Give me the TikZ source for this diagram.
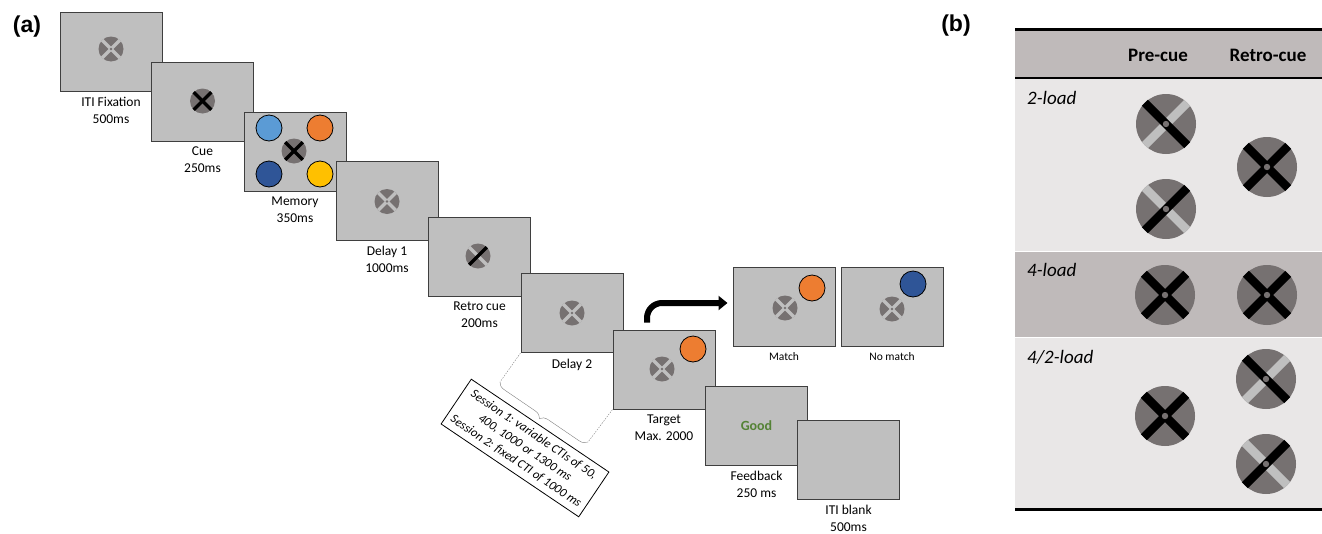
\documentclass[tikz,border=0pt]{standalone}
\usepackage{xcolor}
\usepackage{fontspec}
\setmainfont{Carlito}
\newfontfamily\panelfont{Liberation Sans}
\usepackage{tikz}
\usetikzlibrary{calc,positioning,arrows.meta,decorations.pathreplacing}

\definecolor{scrgray}{HTML}{BFBFBF}
\definecolor{discgray}{HTML}{767171}
\definecolor{edgegray}{HTML}{3F3F3F}
\definecolor{barlight}{HTML}{BFBFBF}
\definecolor{memlblue}{HTML}{5B9BD5}
\definecolor{memorange}{HTML}{ED7D31}
\definecolor{memdblue}{HTML}{2F5597}
\definecolor{memyellow}{HTML}{FFC000}
\definecolor{goodgreen}{HTML}{548235}
\definecolor{tabdark}{HTML}{BFBABA}
\definecolor{tablight}{HTML}{E9E7E7}

% fixation disc: centre, radius, bar width, dot radius, under colour, under angle, over colour
\newcommand{\fixdisc}[7]{%
  \fill[discgray] (#1) circle (#2);
  \draw[line width=#3, #5] ($(#1)+(#6:#2)$) -- ($(#1)+(#6+180:#2)$);
  \draw[line width=#3, #7] ($(#1)+(#6+90:#2)$) -- ($(#1)+(#6+270:#2)$);
  \fill[discgray] (#1) circle (#4);
}

\begin{document}
\begin{tikzpicture}[x=1pt, y=-1pt,
  screen/.style={draw=edgegray, line width=1pt, fill=scrgray, minimum width=102pt, minimum height=79pt, inner sep=0pt},
  lbl/.style={font=\fontsize{13.5}{17}\selectfont, align=center, inner sep=1pt},
  smalllbl/.style={font=\fontsize{11.5}{14}\selectfont, inner sep=1pt},
  memdot/.style={draw=black, line width=0.8pt},
  hdr/.style={font=\bfseries\fontsize{19}{22}\selectfont},
  rowlbl/.style={font=\itshape\fontsize{19}{22}\selectfont, anchor=west, inner sep=0pt},
  panel/.style={font=\panelfont\bfseries\fontsize{23}{26}\selectfont}]

\useasboundingbox (0,0) rectangle (1322,533);

%Panel labels
\node[panel] (pa) at (27,27) {(a)};
\node[panel] (pb) at (956,26) {(b)};

%Screens
\node[screen] (iti) at (111,51.5) {};
\fixdisc{111,49}{12.5}{3.5pt}{1.3}{scrgray}{45}{scrgray}
\node[screen] (cue) at (202.5,101.5) {};
\fixdisc{202.5,101}{12.5}{3.5pt}{0}{black}{45}{black}
\node[screen] (mem) at (295,151.5) {};
\fill[memlblue, memdot] (269,128) circle (13);
\fill[memorange, memdot] (320,128) circle (13);
\fill[memdblue, memdot] (269,174) circle (13);
\fill[memyellow, memdot] (320,174) circle (13);
\fixdisc{294,151}{12.5}{3.5pt}{0}{black}{45}{black}
\node[screen] (del1) at (387,201) {};
\fixdisc{387,201.5}{12.5}{3.5pt}{1.3}{scrgray}{45}{scrgray}
\node[screen] (retro) at (479.5,256.5) {};
\fixdisc{478,256}{12.5}{3.5pt}{0}{scrgray}{45}{black}
\node[screen] (del2) at (572,313) {};
\fixdisc{572,313}{12.5}{3.5pt}{1.3}{scrgray}{45}{scrgray}
\node[screen] (tgt) at (664,369.5) {};
\fixdisc{662,369}{12.5}{3.5pt}{1.3}{scrgray}{45}{scrgray}
\fill[memorange, memdot] (693,349) circle (13);
\node[screen] (fb) at (756.5,426) {};
\node[font=\bfseries\fontsize{14}{16}\selectfont, text=goodgreen] (good) at (fb) {Good};
\node[screen] (blank) at (848.5,460) {};

%Probe outcomes
\node[screen] (match) at (784,307) {};
\fixdisc{785,308}{12.5}{3.5pt}{1.3}{scrgray}{45}{scrgray}
\fill[memorange, memdot] (812,288) circle (13);
\node[screen] (nomatch) at (892,307) {};
\fixdisc{892,309}{12.5}{3.5pt}{1.3}{scrgray}{45}{scrgray}
\fill[memdblue, memdot] (913,284) circle (13);
\draw[line width=6pt, rounded corners=15pt, -{Triangle[length=9pt,width=14pt]}]
  ([xshift=-17pt,yshift=7pt]tgt.north) |- ([xshift=-5pt,yshift=4pt]match.west);

%Labels
\node[lbl, below=4pt of iti] (itilbl) {ITI Fixation\\500ms};
\node[lbl, below=4pt of cue] (cuelbl) {Cue\\250ms};
\node[lbl, below=4pt of mem] (memlbl) {Memory\\350ms};
\node[lbl, below=4pt of del1] (del1lbl) {Delay 1\\1000ms};
\node[lbl, below=4pt of retro] (retrolbl) {Retro cue\\200ms};
\node[lbl, below=5pt of del2] (del2lbl) {Delay 2};
\node[lbl, below=4pt of tgt] (tgtlbl) {Target\\Max. 2000};
\node[lbl, below=4pt of fb] (fblbl) {Feedback\\250 ms};
\node[lbl, below=4pt of blank] (blanklbl) {ITI blank\\500ms};
\node[smalllbl, below=4pt of match] (matchlbl) {Match};
\node[smalllbl, below=4pt of nomatch] (nomatchlbl) {No match};

%CTI brace
\coordinate (bra) at (500,382);
\coordinate (brb) at (588,442);
\draw[gray, dash pattern=on 1.5pt off 1.2pt] (del2.south west) -- (bra);
\draw[gray, dash pattern=on 1.5pt off 1.2pt] (tgt.south west) -- (brb);
\draw[gray, decorate, decoration={brace, amplitude=8pt, mirror}] (bra) -- (brb);
\node[draw, fill=white, line width=0.8pt, rotate=-34, minimum width=166pt, minimum height=54pt,
  align=center, inner sep=2pt, font=\itshape\fontsize{12.5}{16}\selectfont] (cti) at (525,448)
  {Session 1: variable CTIs of 50,\\400, 1000 or 1300 ms\\Session 2: fixed CTI of 1000 ms};

%Table
\fill[tabdark] (1015,29) rectangle (1322,78);
\fill[tablight] (1015,78) rectangle (1322,251);
\fill[tabdark] (1015,251) rectangle (1322,337);
\fill[tablight] (1015,337) rectangle (1322,508);
\draw[white, line width=1pt] (1015,251) -- (1322,251);
\draw[white, line width=1pt] (1015,337) -- (1322,337);
\draw[line width=3pt] (1015,29) -- (1322,29);
\draw[line width=2pt] (1015,78) -- (1322,78);
\draw[line width=3pt] (1015,509) -- (1322,509);
\node[hdr] (pre) at (1158,55) {Pre-cue};
\node[hdr] (post) at (1268,55) {Retro-cue};
\node[rowlbl] (two) at (1027,98) {2-load};
\node[rowlbl] (four) at (1027,270) {4-load};
\node[rowlbl] (mixed) at (1027,357) {4/2-load};

%Cue discs
\fixdisc{1166,124}{30}{8.5pt}{3.2}{barlight}{135}{black}
\fixdisc{1166,209}{30}{8.5pt}{3.2}{barlight}{45}{black}
\fixdisc{1267,167}{30}{8.5pt}{3.2}{black}{45}{black}
\fixdisc{1165,295}{30}{8.5pt}{3.2}{black}{45}{black}
\fixdisc{1267,295}{30}{8.5pt}{3.2}{black}{45}{black}
\fixdisc{1165,416}{30}{8.5pt}{3.2}{black}{45}{black}
\fixdisc{1266,379}{30}{8.5pt}{3.2}{barlight}{135}{black}
\fixdisc{1266,464}{30}{8.5pt}{3.2}{barlight}{45}{black}

\end{tikzpicture}
\end{document}
